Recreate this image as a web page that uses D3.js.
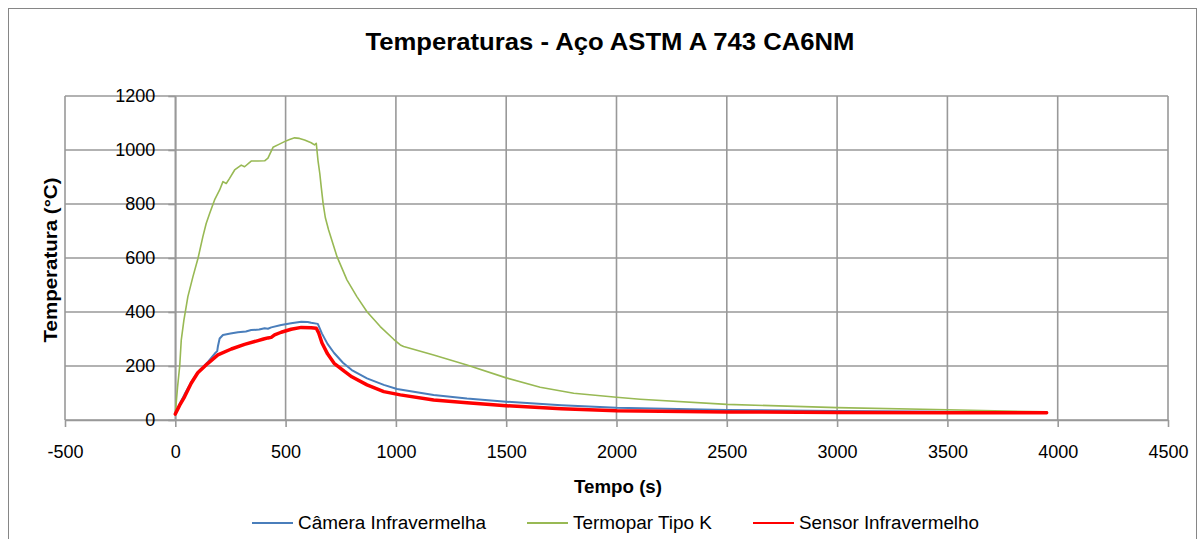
<!DOCTYPE html>
<html>
<head>
<meta charset="utf-8">
<script src="https://cdn.jsdelivr.net/npm/d3@7/dist/d3.min.js"></script>
<style>
  html, body { margin: 0; padding: 0; background: #fff; }
  svg { display: block; }
</style>
</head>
<body>
<svg id="chart" width="1201" height="539"></svg>
<script>
// ---------- data ----------
const title = "Temperaturas - Aço ASTM A 743 CA6NM";
const xLabel = "Tempo (s)";
const yLabel = "Temperatura (°C)";
const xTicks = [-500, 0, 500, 1000, 1500, 2000, 2500, 3000, 3500, 4000, 4500];
const yTicks = [0, 200, 400, 600, 800, 1000, 1200];
const seriesNames = ["Câmera Infravermelha", "Termopar Tipo K", "Sensor Infravermelho"];

const cameraT = [0, 20, 42, 72, 102, 148, 180, 190, 193, 201, 216, 250, 284, 320, 344, 380, 405, 420, 435, 480, 525, 571, 600, 616, 646, 665, 690, 720, 760, 800, 869, 945, 1005, 1171, 1322, 1500, 1750, 2000, 2500, 3000, 3500, 3950];
const cameraV = [22, 60, 95, 140, 178, 215, 247, 255, 272, 302, 315, 320, 325, 328, 333, 335, 340, 338, 343, 352, 358, 364, 363, 360, 356, 320, 282, 248, 212, 185, 154, 130, 115, 93, 80, 68, 55, 45, 37, 33, 31, 29];

const termoparT = [0, 10, 20, 27, 39, 57, 80, 103, 125, 140, 156, 178, 201, 216, 231, 246, 269, 299, 314, 344, 375, 405, 420, 443, 465, 495, 518, 541, 563, 586, 616, 631, 639, 647, 655, 662, 670, 680, 695, 733, 778, 823, 869, 929, 990, 1020, 1035, 1171, 1322, 1500, 1654, 1806, 2000, 2107, 2500, 3000, 3500, 3951];
const termoparV = [24, 120, 200, 296, 370, 457, 531, 599, 679, 728, 766, 815, 852, 883, 876, 895, 926, 944, 938, 959, 959, 960, 970, 1010, 1019, 1031, 1039, 1045, 1043, 1037, 1027, 1019, 1025, 960, 913, 860, 802, 750, 704, 605, 519, 457, 401, 346, 299, 278, 272, 241, 204, 156, 121, 99, 84, 77, 58, 46, 38, 30];

const sensorT = [0, 20, 42, 72, 102, 148, 193, 254, 314, 375, 400, 420, 435, 450, 480, 525, 571, 616, 639, 650, 665, 690, 720, 767, 800, 869, 945, 1020, 1171, 1322, 1500, 1750, 2000, 2500, 3000, 3500, 3950];
const sensorV = [22, 55, 86, 136, 175, 210, 241, 263, 280, 294, 300, 304, 306, 315, 325, 336, 343, 342, 340, 322, 285, 245, 210, 180, 160, 130, 105, 93, 74, 64, 53, 42, 34, 30, 28, 27, 27];

const colors = ["#4A7EBB", "#98B954", "#FF0000"];
const widths = [2, 1.6, 3.5];

// ---------- drawing ----------
const svg = d3.select("#chart");
const FONT = "'Liberation Sans', Arial, sans-serif";
const NARROW = "'Liberation Sans Narrow', 'Liberation Sans', Arial, sans-serif";

svg.append("rect").attr("x", 8.5).attr("y", 8.5).attr("width", 1188).attr("height", 545)
  .attr("fill", "#fff").attr("stroke", "#868686").attr("stroke-width", 1);

const x = d3.scaleLinear().domain([-500, 4500]).range([65, 1168]);
const y = d3.scaleLinear().domain([0, 1200]).range([420, 96]);

const grid = svg.append("g").attr("stroke", "#999").attr("stroke-width", 1.6);
grid.selectAll("line.h").data(yTicks).join("line")
  .attr("x1", x(-500)).attr("x2", x(4500))
  .attr("y1", d => y(d)).attr("y2", d => y(d));
grid.selectAll("line.v").data(xTicks).join("line")
  .attr("x1", d => x(d)).attr("x2", d => x(d))
  .attr("y1", y(1200)).attr("y2", y(0));

// axes
const fmt = d => String(d);
const xAxis = svg.append("g").attr("transform", `translate(0,${y(0)})`)
  .call(d3.axisBottom(x).tickValues(xTicks).tickSize(7).tickPadding(18).tickSizeOuter(0).tickFormat(fmt));
const yAxis = svg.append("g").attr("transform", `translate(${x(0)},0)`)
  .call(d3.axisLeft(y).tickValues(yTicks).tickSize(7).tickPadding(13).tickSizeOuter(0).tickFormat(fmt));
[xAxis, yAxis].forEach(a => {
  a.select(".domain").attr("stroke", "#999").attr("stroke-width", 1.6);
  a.selectAll(".tick line").attr("stroke", "#999").attr("stroke-width", 1.6);
  a.selectAll(".tick text").attr("fill", "#000").style("font-family", FONT).style("font-size", "18px");
});

// series
const seriesData = [
  cameraT.map((t, i) => [t, cameraV[i]]),
  termoparT.map((t, i) => [t, termoparV[i]]),
  sensorT.map((t, i) => [t, sensorV[i]])
];
const line = d3.line().x(d => x(d[0])).y(d => y(d[1]));
seriesData.forEach((s, i) => {
  svg.append("path").datum(s).attr("d", line)
    .attr("fill", "none").attr("stroke", colors[i]).attr("stroke-width", widths[i])
    .attr("stroke-linejoin", "round").attr("stroke-linecap", "round");
});

// title
svg.append("text").attr("x", 610).attr("y", 50).attr("text-anchor", "middle")
  .attr("textLength", 489).attr("lengthAdjust", "spacingAndGlyphs")
  .style("font-family", NARROW).style("font-weight", "bold").style("font-size", "24px")
  .text(title);

// axis titles
svg.append("text").attr("x", 618).attr("y", 493).attr("text-anchor", "middle")
  .attr("textLength", 88).attr("lengthAdjust", "spacingAndGlyphs")
  .style("font-family", NARROW).style("font-weight", "bold").style("font-size", "19px")
  .text(xLabel);
svg.append("text").attr("transform", "translate(57,260) rotate(-90)").attr("text-anchor", "middle")
  .attr("textLength", 165).attr("lengthAdjust", "spacingAndGlyphs")
  .style("font-family", NARROW).style("font-weight", "bold").style("font-size", "19px")
  .text(yLabel);

// legend
const legendX = [252, 527, 753];
const legendW = [188, 139, 180];
const lg = svg.append("g");
seriesNames.forEach((n, i) => {
  lg.append("line").attr("x1", legendX[i]).attr("x2", legendX[i] + 41)
    .attr("y1", 523).attr("y2", 523).attr("stroke", colors[i]).attr("stroke-width", 2);
  lg.append("text").attr("x", legendX[i] + 46).attr("y", 529)
    .attr("textLength", legendW[i]).attr("lengthAdjust", "spacingAndGlyphs")
    .style("font-family", NARROW).style("font-size", "18px").attr("fill", "#000")
    .text(n);
});
</script>
</body>
</html>
